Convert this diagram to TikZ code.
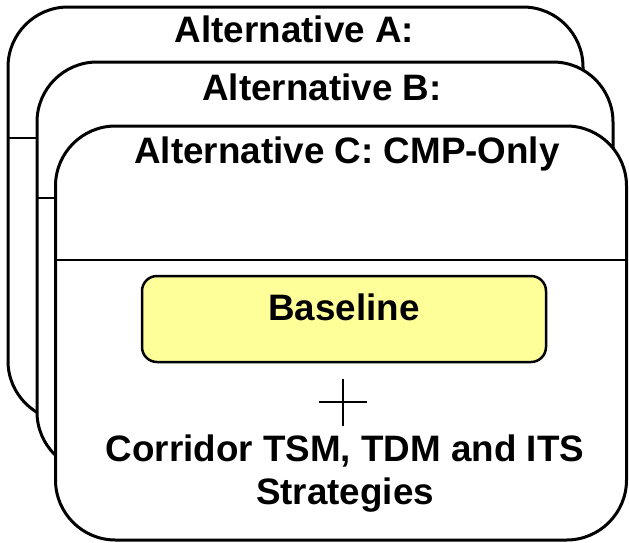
\documentclass[tikz,border=0pt]{standalone}
\usepackage{fontspec}
\setmainfont{Liberation Sans}
\begin{document}
\begin{tikzpicture}[x=1pt,y=-1pt,
  panel/.style={draw, line width=3pt, fill=white, rounded corners=60pt,
    outer sep=0pt, inner sep=0pt},
  divider/.style={line width=2pt},
  bigtext/.style={font=\fontsize{36.8}{43}\bfseries\selectfont, inner sep=0pt},
  title/.style={bigtext, anchor=base},
  basebox/.style={draw, line width=2.5pt, fill={rgb,255:red,255;green,255;blue,153},
    rounded corners=15pt, outer sep=0pt, inner sep=0pt,
    minimum width=404pt, minimum height=86pt},
  plusline/.style={line width=1.6pt}]
\useasboundingbox (0,0) rectangle (629,542);
\fill[white] (0,0) rectangle (629,542);

% Alternative A (back)
\node[panel, minimum width=575pt, minimum height=414pt] (boxA) at (295.5,214) {};
\coordinate (sepA) at (0,138);
\draw[divider] (boxA.west |- sepA) -- (boxA.east |- sepA);
\node[title] (titleA) at (294.5,42) {Alternative A:};

% Alternative B (middle)
\node[panel, minimum width=576pt, minimum height=410pt] (boxB) at (325,267) {};
\coordinate (sepB) at (0,198);
\draw[divider] (boxB.west |- sepB) -- (boxB.east |- sepB);
\node[title] (titleB) at (322,100) {Alternative B:};

% Alternative C (front)
\node[panel, minimum width=571pt, minimum height=414pt] (boxC) at (341,333) {};
\coordinate (sepC) at (0,260);
\draw[divider] (boxC.west |- sepC) -- (boxC.east |- sepC);
\node[title] (titleC) at (347,163) {Alternative C: CMP-Only};

% Contents of alternative C
\node[basebox] (base) at (344,319) {};
\node[title] (baseText) at (344,320) {Baseline};

\coordinate (plus) at (343,402);
\draw[plusline] (plus) ++(0,-23.5) -- ++(0,47);
\draw[plusline] (plus) ++(-24,0) -- ++(48,0);

\node[bigtext, align=center] (strategies) at (345,474)
  {Corridor TSM, TDM and ITS\\Strategies};
\end{tikzpicture}
\end{document}
